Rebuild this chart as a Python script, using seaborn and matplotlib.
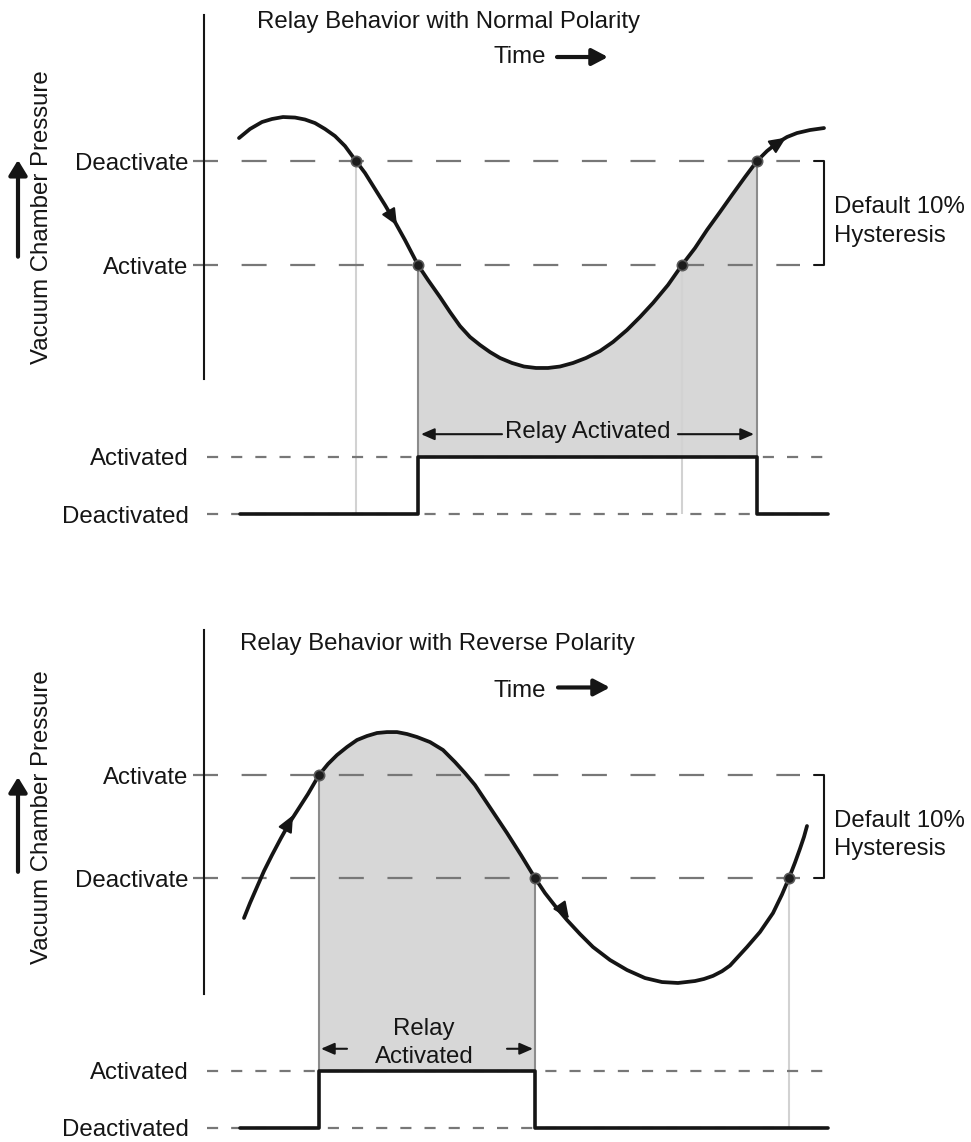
import matplotlib.pyplot as plt
import seaborn as sns
import numpy as np

# time in arbitrary units, pressure as % of the switching setpoint
normal_t = [3.5, 4.6, 5.8, 6.8, 7.9, 9.1, 10.1, 11.1, 12.1, 13.1,
            14.1, 15.2, 16.1, 17.1, 18.1, 19.1, 20.1, 21.4, 22.4, 23.6,
            24.6, 25.6, 26.6, 27.6, 28.6, 29.6, 30.8, 32.0, 33.2, 34.4,
            35.6, 36.9, 38.2, 39.6, 40.9, 42.3, 43.6, 44.9, 46.4, 47.8,
            49.1, 50.3, 51.6, 52.8, 54.1, 55.3, 56.3, 57.3, 58.3, 59.3,
            60.6, 62.0]
normal_p = [102.21, 103.08, 103.75, 104.04, 104.23, 104.18, 103.99, 103.65, 103.08, 102.40,
            101.44, 100.0, 98.85, 97.31, 95.77, 94.13, 92.40, 90.0, 88.56, 86.92,
            85.48, 84.13, 83.08, 82.31, 81.63, 81.06, 80.58, 80.24, 80.10, 80.10,
            80.24, 80.58, 81.06, 81.73, 82.60, 83.75, 85.0, 86.35, 88.08, 90.0,
            91.63, 93.37, 95.10, 96.73, 98.46, 100.0, 100.96, 101.73, 102.31, 102.69,
            102.98, 103.17]
reverse_t = [4.0, 4.6, 5.3, 6.0, 6.8, 7.7, 8.6, 9.5, 10.4, 11.5,
             12.4, 13.3, 14.3, 15.3, 16.3, 17.3, 18.3, 19.3, 20.3, 21.3,
             22.6, 23.9, 25.1, 26.1, 27.1, 28.9, 30.3, 31.7, 33.1,
             34.1, 35.2, 36.3, 37.6, 38.9, 40.6, 42.3, 44.1, 45.8, 47.4,
             49.1, 50.0, 50.9, 51.8, 52.6, 54.3, 55.6, 56.9, 57.8, 58.5,
             59.1, 59.6, 60.0, 60.3]
reverse_p = [86.12, 87.57, 89.13, 90.68, 92.23, 93.88, 95.44, 96.80, 98.16, 100.0,
             101.07, 101.94, 102.72, 103.40, 103.79, 104.08, 104.17, 104.17, 103.98, 103.69,
             103.20, 102.43, 101.26, 100.19, 99.03, 96.41, 94.37, 92.23, 90.0,
             88.54, 87.18, 85.92, 84.56, 83.30, 82.04, 81.07, 80.29, 79.90, 79.81,
             80.0, 80.2, 80.5, 80.95, 81.5, 83.30, 84.76, 86.60, 88.4, 90.0,
             91.5, 92.85, 94.0, 95.05]

# setpoints (10% hysteresis)
normal_levels = [100, 90]
normal_names = ["Deactivate", "Activate"]
reverse_levels = [100, 90]
reverse_names = ["Activate", "Deactivate"]

# points where the curve crosses a setpoint
normal_cross_t = [15.2, 21.4, 47.8, 55.3]
normal_cross_p = [100, 90, 90, 100]
reverse_cross_t = [11.5, 33.1, 58.5]
reverse_cross_p = [100, 90, 90]

# relay state over time (0 = deactivated, 1 = activated)
normal_relay_t = [3.6, 21.4, 55.3, 62.4]
normal_relay_s = [0, 1, 0, 0]
reverse_relay_t = [3.6, 11.5, 33.1, 62.4]
reverse_relay_s = [0, 1, 0, 0]
relay_names = ["Activated", "Deactivated"]

sns.set_theme(style="white")
plt.rcParams["font.family"] = ["Liberation Sans", "DejaVu Sans"]
plt.rcParams["lines.scale_dashes"] = False

FS = 17.3
INK = "#151515"
DASH = "#777777"
FILL = "#d7d7d7"
EDGE = "#8c8c8c"
FAINT = "#d2d2d2"

W, H = 971, 1142
fig = plt.figure(figsize=(W / 100, H / 100), dpi=100)


def add_axes(left, top, right, bottom):
    ax = fig.add_axes([left / W, 1 - bottom / H, (right - left) / W, (bottom - top) / H])
    ax.set_facecolor("none")
    return ax


def pressure_axes(ax, t, p, ylim, levels, names):
    ax.set_xlim(0, 63)
    ax.set_ylim(*ylim)
    sns.despine(ax=ax, bottom=True)
    ax.spines["left"].set_color(INK)
    ax.spines["left"].set_linewidth(1.5)
    ax.set_xticks([])
    ax.set_yticks(levels, names)
    ax.tick_params(axis="y", length=0, pad=11.5, labelsize=FS, labelcolor=INK)
    for lv in levels:
        ax.plot([-1.1, 59.6], [lv, lv], color=DASH, lw=1.6, ls=(0, (18, 17)),
                clip_on=False, zorder=1)
    sns.lineplot(x=t, y=p, ax=ax, color=INK, lw=2.7, zorder=5)


def relay_axes(ax, ylim, step_t, step_s):
    ax.set_xlim(0, 63)
    ax.set_ylim(*ylim)
    sns.despine(ax=ax, left=True, bottom=True)
    ax.set_xticks([])
    ax.set_yticks([1, 0], relay_names)
    ax.tick_params(axis="y", length=0, pad=10.8, labelsize=FS, labelcolor=INK)
    for lv in (0, 1):
        ax.plot([0.3, 62.7], [lv, lv], color=DASH, lw=1.6, ls=(0, (8, 9.4)),
                clip_on=False, zorder=1)
    ax.step(step_t, step_s, where="post", color=INK, lw=2.6, zorder=5)


def shade(ax_p, ax_r, t, p, t0, t1, p0, p1):
    t = np.array(t)
    p = np.array(p)
    m = (t >= t0) & (t <= t1)
    bot = ax_p.get_ylim()[0]
    top = ax_r.get_ylim()[1]
    ax_p.fill_between(t[m], p[m], bot, color=FILL, lw=0, zorder=0)
    ax_r.fill_between([t0, t1], 1, top, color=FILL, lw=0, zorder=0)
    ax_p.vlines([t0, t1], bot, [p0, p1], color=EDGE, lw=1.5, zorder=2)
    ax_r.vlines([t0, t1], 1, top, color=EDGE, lw=1.5, zorder=2)


def faint_line(ax_p, ax_r, tc, pc):
    ax_p.vlines(tc, ax_p.get_ylim()[0], pc, color=FAINT, lw=1.5, zorder=0.5)
    ax_r.vlines(tc, 0, ax_r.get_ylim()[1], color=FAINT, lw=1.5, zorder=0.5)


def head(ax, tail, tip):
    ax.annotate("", xy=tip, xytext=tail, annotation_clip=False,
                arrowprops=dict(arrowstyle="-|>,head_length=1.0,head_width=0.45",
                                mutation_scale=10, color=INK, lw=1.5,
                                shrinkA=0, shrinkB=0), zorder=7)


def arrow(ax, tail, tip, lw, hl, hw):
    ax.annotate("", xy=tip, xytext=tail, annotation_clip=False,
                arrowprops=dict(arrowstyle=f"-|>,head_length={hl},head_width={hw}",
                                mutation_scale=10, color=INK, lw=lw,
                                shrinkA=0, shrinkB=0))


def side_labels(ax, p_label, p_arrow0, p_arrow1, p_hyst):
    ax.text(-16.15, p_label, "Vacuum Chamber Pressure", rotation=90,
            ha="center", va="center", fontsize=FS, color=INK)
    arrow(ax, (-18.6, p_arrow0), (-18.6, p_arrow1), 3.0, 0.9, 0.55)
    ax.plot([61.0, 62.0, 62.0, 61.0], [100, 100, 90, 90], color=INK, lw=1.5,
            clip_on=False)
    ax.text(63.0, p_hyst[0], "Default 10%", va="baseline", fontsize=FS, color=INK)
    ax.text(63.0, p_hyst[1], "Hysteresis", va="baseline", fontsize=FS, color=INK)


# ---- top panel: normal polarity
ax1 = add_axes(204, 15, 834, 379)
ax1r = add_axes(204, 379, 834, 527)
pressure_axes(ax1, normal_t, normal_p, (79.04, 114.04), normal_levels, normal_names)
relay_axes(ax1r, (-0.228, 2.368), normal_relay_t, normal_relay_s)
shade(ax1, ax1r, normal_t, normal_p, 21.4, 55.3, 90, 100)
faint_line(ax1, ax1r, 15.2, 100)
faint_line(ax1, ax1r, 47.8, 90)
sns.scatterplot(x=normal_cross_t, y=normal_cross_p, ax=ax1, s=55, color="#1c1c1c",
                edgecolor="#5a5a5a", linewidth=1.2, zorder=8, clip_on=False)
head(ax1, (18.2, 95.6), (19.3, 93.8))
head(ax1, (56.8, 101.35), (58.2, 102.25))
ax1.text(5.3, 112.8, "Relay Behavior with Normal Polarity", va="baseline",
         fontsize=FS, color=INK)
ax1.text(28.9, 109.4, "Time", va="baseline", fontsize=FS, color=INK)
arrow(ax1, (35.3, 110.0), (40.4, 110.0), 3.0, 0.95, 0.5)
side_labels(ax1, 94.6, 90.8, 100.1, (95.0, 92.2))
ax1r.text(38.4, 1.33, "Relay Activated", ha="center", va="baseline",
          fontsize=FS, color=INK)
arrow(ax1r, (29.8, 1.40), (21.7, 1.40), 1.5, 0.8, 0.35)
arrow(ax1r, (47.4, 1.40), (55.0, 1.40), 1.5, 0.8, 0.35)

# ---- bottom panel: reverse polarity
ax2 = add_axes(204, 630, 834, 994)
ax2r = add_axes(204, 994, 834, 1142)
pressure_axes(ax2, reverse_t, reverse_p, (78.74, 114.08), reverse_levels, reverse_names)
relay_axes(ax2r, (-0.246, 2.351), reverse_relay_t, reverse_relay_s)
shade(ax2, ax2r, reverse_t, reverse_p, 11.5, 33.1, 100, 90)
faint_line(ax2, ax2r, 58.5, 90)
sns.scatterplot(x=reverse_cross_t, y=reverse_cross_p, ax=ax2, s=55, color="#1c1c1c",
                edgecolor="#5a5a5a", linewidth=1.2, zorder=8, clip_on=False)
head(ax2, (8.3, 95.0), (8.9, 96.1))
head(ax2, (35.6, 87.3), (36.5, 86.05))
ax2.text(3.6, 112.1, "Relay Behavior with Reverse Polarity", va="baseline",
         fontsize=FS, color=INK)
ax2.text(28.9, 107.6, "Time", va="baseline", fontsize=FS, color=INK)
arrow(ax2, (35.4, 108.5), (40.6, 108.5), 3.0, 0.95, 0.5)
side_labels(ax2, 95.9, 90.6, 99.8, (94.95, 92.2))
ax2r.text(22.0, 1.63, "Relay", ha="center", va="baseline", fontsize=FS, color=INK)
ax2r.text(22.0, 1.135, "Activated", ha="center", va="baseline", fontsize=FS, color=INK)
arrow(ax2r, (14.3, 1.39), (11.7, 1.39), 1.5, 0.8, 0.35)
arrow(ax2r, (30.3, 1.39), (32.9, 1.39), 1.5, 0.8, 0.35)

fig.savefig("out.png", dpi=100, facecolor="white")
